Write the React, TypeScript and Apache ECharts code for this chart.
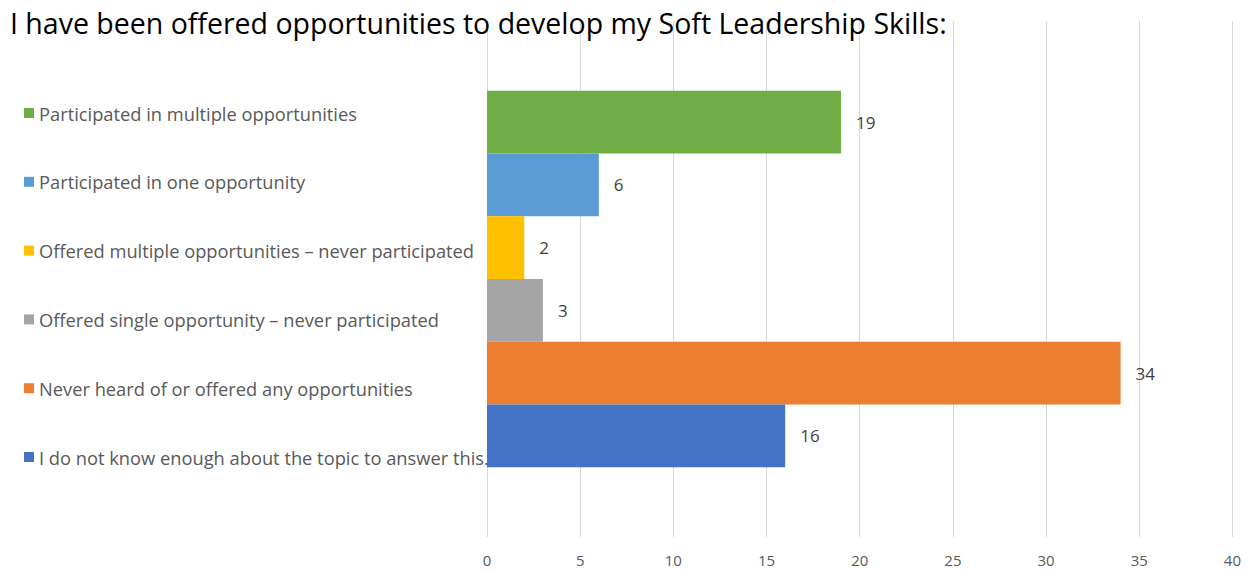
import React, { useEffect, useRef } from "react";
import * as echarts from "echarts";

const title = "I have been offered opportunities to develop my Soft Leadership Skills:";
const categories = [
  "Participated in multiple opportunities",
  "Participated in one opportunity",
  "Offered multiple opportunities \u2013 never participated",
  "Offered single opportunity \u2013 never participated",
  "Never heard of or offered any opportunities",
  "I do not know enough about the topic to answer this.",
];
const values = [19, 6, 2, 3, 34, 16];
const colors = ["#70ad47", "#5b9bd5", "#ffc000", "#a5a5a5", "#ed7d31", "#4472c4"];
const xTicks = { min: 0, max: 40, interval: 5 };

const FONT = "'Open Sans', 'Noto Sans', sans-serif";

export default function App() {
  const ref = useRef<HTMLDivElement>(null);
  useEffect(() => {
    if (!ref.current) return;
    const chart = echarts.init(ref.current, undefined, { renderer: "svg" });
    const legendTop0 = 91;
    const legendStep = 68.8;
    chart.setOption({
      animation: false,
      title: {
        text: title,
        left: 2,
        top: 0,
        padding: 0,
        textStyle: { fontFamily: FONT, fontSize: 28.5, fontWeight: "normal", color: "#000" },
      },
      legend: categories.map((name, i) => ({
        data: [name],
        left: 11,
        top: legendTop0 + i * legendStep,
        itemWidth: 10,
        itemHeight: 10,
        itemGap: 0,
        selectedMode: false,
        icon: "rect",
        textStyle: { fontFamily: FONT, fontSize: 18.3, color: "#595959" },
      })),
      grid: { left: 479, right: 9, top: 13, bottom: 34, containLabel: false },
      xAxis: {
        type: "value",
        min: xTicks.min,
        max: xTicks.max,
        interval: xTicks.interval,
        axisLine: { show: false },
        axisTick: { show: false },
        axisLabel: { fontFamily: FONT, fontSize: 15, color: "#595959", margin: 15 },
        splitLine: { show: true, lineStyle: { color: "#d9d9d9", width: 1 } },
      },
      yAxis: {
        type: "category",
        data: [""],
        axisLine: { show: false },
        axisTick: { show: false },
        axisLabel: { show: false },
      },
      series: categories.map((name, i) => ({
        name,
        type: "bar",
        data: [values[i]],
        z: 5,
        barGap: "0%",
        barCategoryGap: "27%",
        itemStyle: { color: colors[i] },
        label: {
          show: true,
          position: "right",
          distance: 15,
          fontFamily: FONT,
          fontSize: 17,
          color: "#404040",
        },
      })),
    });
    return () => chart.dispose();
  }, []);
  return <div ref={ref} style={{ width: 1236, height: 563 }} />;
}
